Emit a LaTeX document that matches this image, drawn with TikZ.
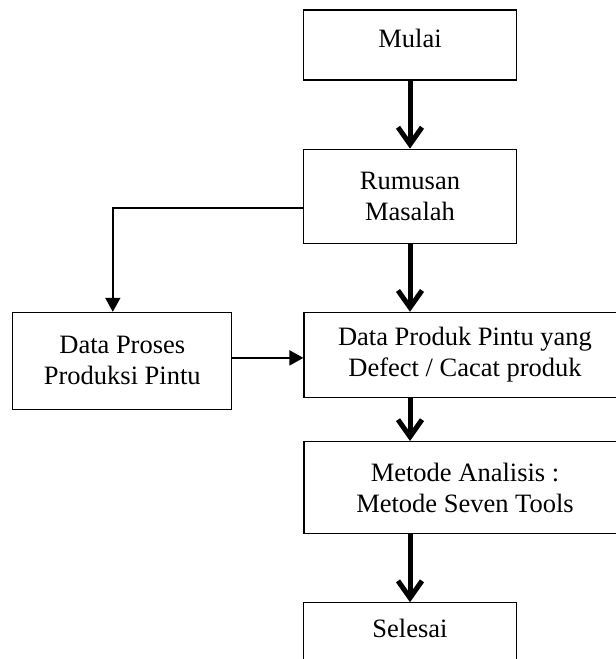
\documentclass[tikz,border=0pt]{standalone}
\usepackage{fontspec}
\setmainfont{Liberation Serif}
\usetikzlibrary{arrows.meta,positioning}

\begin{document}
\begin{tikzpicture}[
    x=1pt, y=-1pt,
    every node/.style={font=\fontsize{26.5}{31}\selectfont},
    box/.style={draw, line width=1.2pt, align=center, inner sep=0pt},
    onebox/.style={box, text height=#1},
    bigarr/.style={line width=5pt, -{Straight Barb[length=17pt, width=24pt]}},
    arr/.style={line width=1.8pt, -{Triangle[length=14pt, width=15pt]}},
]
\useasboundingbox (0,0) rectangle (616,659);

% main column
\node[onebox=37pt, text depth=33pt, minimum width=213pt] (mulai) at (410,45) {Mulai};
\node[box, minimum width=213pt, minimum height=94pt, below=68pt of mulai] (rumusan) {Rumusan\\Masalah};
\node[box, minimum width=322pt, minimum height=85pt, below=68pt of rumusan, xshift=55pt] (produk)
    {Data Produk Pintu yang\\Defect / Cacat produk};
\node[box, minimum width=322pt, minimum height=92pt, below=43pt of produk] (metode)
    {Metode Analisis :\\Metode Seven Tools};
\node[onebox=35pt, text depth=57pt, minimum width=213pt, below=68pt of metode, xshift=-55pt] (selesai) {Selesai};

% side box
\node[box, minimum width=219pt, minimum height=97pt, left=71pt of produk, yshift=-6pt] (proses)
    {Data Proses\\Produksi Pintu};

% arrows
\draw[bigarr] (mulai) -- (rumusan);
\draw[bigarr] (rumusan.south) -- (rumusan.south |- produk.north);
\draw[bigarr] (rumusan.south |- produk.south) -- (rumusan.south |- metode.north);
\draw[bigarr] (rumusan.south |- metode.south) -- (selesai.north);

\draw[arr] ([yshift=-12pt]rumusan.west) -| ([xshift=-9.5pt]proses.north);
\draw[arr] ([yshift=3pt]proses.east) -- ([yshift=3pt]proses.east -| produk.west);

\end{tikzpicture}
\end{document}
